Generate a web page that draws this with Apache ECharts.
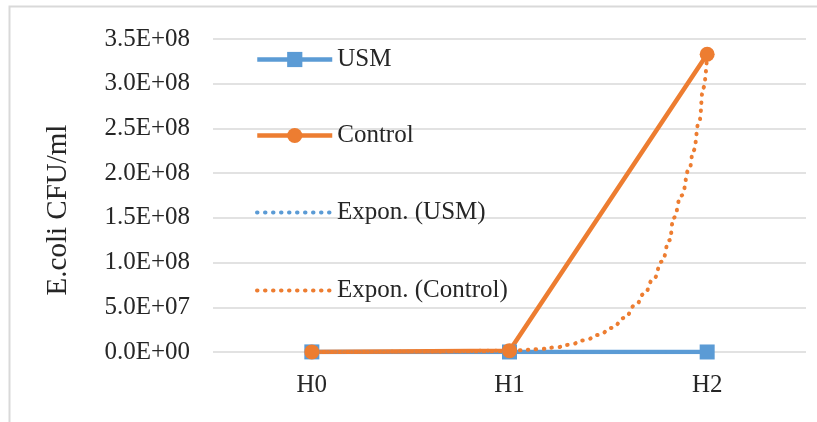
<!DOCTYPE html>
<html>
<head>
<meta charset="utf-8">
<script src="https://cdn.jsdelivr.net/npm/echarts@6/dist/echarts.min.js"></script>
<style>
  html, body { margin: 0; padding: 0; background: #fff; }
  #chart { width: 817px; height: 422px; }
</style>
</head>
<body>
<div id="chart"></div>
<script>
// categories on x (placed at 0, 1, 2 on a value axis so trendlines can sit between them)
const categories = ['H0', 'H1', 'H2'];
const categoryPos = [0, 1, 2];

// measured series (CFU/ml)
const usmValues = [1.2e5, 3.0e4, 2.0e4];
const controlValues = [1.0e5, 1.5e6, 3.33e8];

// exponential trendlines
const usmTrendX = [0, 1, 2];
const usmTrendY = [1.1e5, 4.0e4, 1.5e4];
const controlTrendX = [0, 0.5, 1.0, 1.05, 1.14, 1.23, 1.30, 1.38, 1.45, 1.52, 1.58, 1.64, 1.68, 1.73, 1.77, 1.81, 1.83, 1.87, 1.91, 1.93, 1.96, 1.98, 2.0];
const controlTrendY = [1.0e4, 1.5e5, 1.5e6, 2.0e6, 3.0e6, 5.0e6, 8.0e6, 1.3e7, 1.9e7, 2.7e7, 3.8e7, 5.3e7, 6.5e7, 8.2e7, 1.01e8, 1.25e8, 1.5e8, 1.75e8, 2.05e8, 2.25e8, 2.58e8, 2.95e8, 3.33e8];

const yMin = 0, yMax = 3.5e8, yStep = 5e7;

const BLUE = '#5B9BD5';
const ORANGE = '#ED7D31';
const TEXT = '#262626';
const FONT = '"Liberation Serif", "Times New Roman", serif';
const DOTS = [0.5, 7.5];

function sci(v) {
  if (v === 0) return '0.0E+00';
  const e = Math.floor(Math.log10(v) + 1e-9);
  const m = (v / Math.pow(10, e)).toFixed(1);
  return m + 'E+' + String(e).padStart(2, '0');
}

const pairs = (xs, ys) => xs.map((x, i) => [x, ys[i]]);

// one legend block per entry so each row sits where Excel put it
const legendRows = [
  { name: 'USM', y: 60, color: BLUE, trend: false },
  { name: 'Control', y: 136, color: ORANGE, trend: false },
  { name: 'Expon. (USM)', y: 213, color: BLUE, trend: true },
  { name: 'Expon. (Control)', y: 291, color: ORANGE, trend: true }
];

const myChart = echarts.init(document.getElementById('chart'));

myChart.setOption({
  animation: false,
  backgroundColor: '#fff',
  grid: { left: 213, right: 11, top: 39, bottom: 70 },
  legend: legendRows.map(r => ({
    data: [r.name],
    orient: 'vertical',
    left: 255,
    top: r.y - 13,
    padding: 0,
    itemWidth: 75,
    itemHeight: 19,
    selectedMode: false,
    lineStyle: r.trend
      ? { color: r.color, width: 4, type: DOTS, cap: 'round' }
      : { color: r.color, width: 4.5 },
    itemStyle: r.trend
      ? { color: 'rgba(0,0,0,0)', borderWidth: 0 }
      : { color: r.color, borderWidth: 0 },
    textStyle: { fontFamily: FONT, fontSize: 25, color: TEXT }
  })),
  xAxis: {
    type: 'value',
    min: -0.5,
    max: 2.5,
    interval: 0.5,
    axisLine: { show: false },
    axisTick: { show: false },
    splitLine: { show: false },
    axisLabel: {
      margin: 21,
      fontFamily: FONT,
      fontSize: 25,
      color: TEXT,
      formatter: v => {
        const i = categoryPos.indexOf(v);
        return i >= 0 ? categories[i] : '';
      }
    }
  },
  yAxis: {
    type: 'value',
    min: yMin,
    max: yMax,
    interval: yStep,
    axisLine: { show: false },
    axisTick: { show: false },
    splitLine: { lineStyle: { color: '#d9d9d9', width: 1.5 } },
    axisLabel: {
      margin: 23,
      fontFamily: FONT,
      fontSize: 25,
      color: TEXT,
      formatter: sci
    }
  },
  graphic: [
    {
      type: 'rect',
      silent: true,
      shape: { x: 9.5, y: 6.5, width: 900, height: 500 },
      style: { fill: 'none', stroke: '#d9d9d9', lineWidth: 2 }
    },
    {
      type: 'text',
      x: 58,
      y: 210,
      rotation: Math.PI / 2,
      style: {
        text: 'E.coli CFU/ml',
        fontFamily: FONT,
        fontSize: 29,
        fill: TEXT,
        textAlign: 'center',
        textVerticalAlign: 'middle'
      }
    }
  ],
  series: [
    {
      name: 'USM',
      type: 'line',
      data: pairs(categoryPos, usmValues),
      symbol: 'rect',
      symbolSize: 15,
      color: BLUE,
      lineStyle: { color: BLUE, width: 4.5 },
      itemStyle: { color: BLUE }
    },
    {
      name: 'Control',
      type: 'line',
      data: pairs(categoryPos, controlValues),
      symbol: 'circle',
      symbolSize: 15,
      color: ORANGE,
      lineStyle: { color: ORANGE, width: 4.5 },
      itemStyle: { color: ORANGE }
    },
    {
      name: 'Expon. (USM)',
      type: 'line',
      data: pairs(usmTrendX, usmTrendY),
      symbol: 'none',
      smooth: true,
      color: BLUE,
      lineStyle: { color: BLUE, width: 4, type: DOTS, cap: 'round' }
    },
    {
      name: 'Expon. (Control)',
      type: 'line',
      data: pairs(controlTrendX, controlTrendY),
      symbol: 'none',
      smooth: true,
      smoothMonotone: 'x',
      color: ORANGE,
      lineStyle: { color: ORANGE, width: 4, type: DOTS, cap: 'round' }
    }
  ]
});
</script>
</body>
</html>
